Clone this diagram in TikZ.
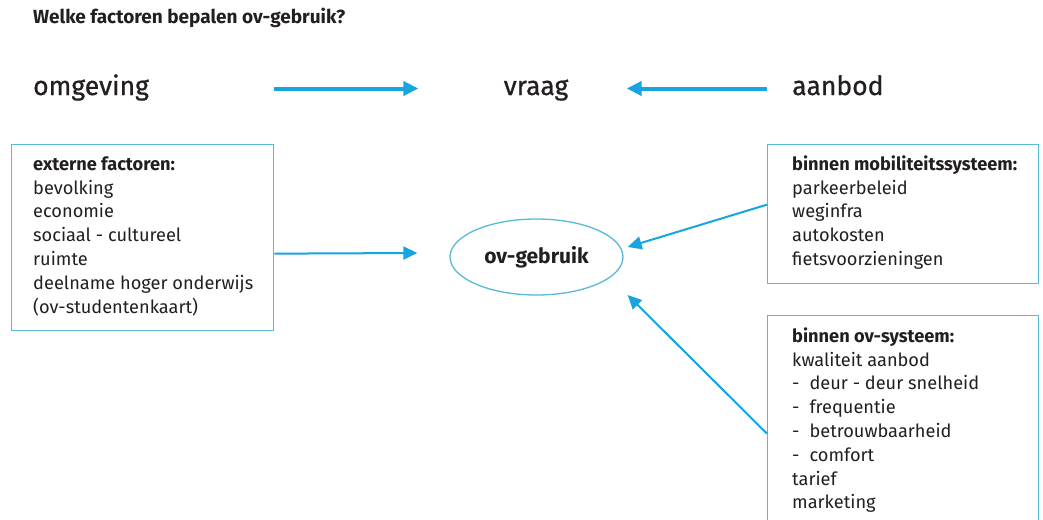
\documentclass[tikz,border=0pt]{standalone}
\usepackage{fontspec}
\setmainfont{Fira Sans}
\newfontfamily\medfont[FakeBold=0.8]{Fira Sans}
\usetikzlibrary{arrows.meta,shapes.geometric,calc}
\definecolor{arr}{RGB}{22,165,225}
\definecolor{bx}{RGB}{85,187,215}
\definecolor{txt}{RGB}{35,31,32}
\newcommand{\firstln}{\rule{0pt}{16pt}}
\begin{document}
\begin{tikzpicture}[x=1pt,y=-1pt,
  every node/.style={text=txt, inner sep=0pt},
  heading/.style={font=\medfont\fontsize{26.5}{30}\selectfont, text height=18pt, text depth=5pt},
  boxframe/.style={draw=bx, line width=1.3pt, anchor=north west},
  listtext/.style={align=left, anchor=north west, font=\fontsize{18.2}{23.8}\selectfont},
  bigarrow/.style={draw=arr, line width=4pt, -{Triangle[length=15pt,width=14pt]}},
  smallarrow/.style={draw=arr, line width=2pt, -{Triangle[length=14pt,width=13pt]}}]
\useasboundingbox (0,0) rectangle (1043,519);
\fill[white] (0,0) rectangle (1043,519);

\node[anchor=base west, font=\fontsize{19}{22}\selectfont\bfseries] (title) at (33,24) {Welke factoren bepalen ov-gebruik?};

\node[heading, anchor=base west] (omg) at (33,95) {omgeving};
\node[heading, anchor=base] (vraag) at (536,95) {vraag};
\node[heading, anchor=base west] (aanbod) at (792,95) {aanbod};

\node[boxframe, minimum width=262pt, minimum height=186pt] (lbox) at (11,144) {};
\node[boxframe, minimum width=271pt, minimum height=139pt] (rbox) at (767,144) {};
\node[boxframe, minimum width=271pt, minimum height=215pt] (obox) at (767,315) {};

\node[listtext] (ltext) at (33,154) {\firstln\textbf{externe factoren:}\\bevolking\\economie\\sociaal - cultureel\\ruimte\\deelname hoger onderwijs\\(ov-studentenkaart)};
\node[listtext] (rtext) at (792,154) {\firstln\textbf{binnen mobiliteitssysteem:}\\parkeerbeleid\\weginfra\\autokosten\\fietsvoorzieningen};
\node[listtext] (otext) at (792,326) {\firstln\textbf{binnen ov-systeem:}\\kwaliteit aanbod\\-\hspace{10pt}deur - deur snelheid\\-\hspace{10pt}frequentie\\-\hspace{10pt}betrouwbaarheid\\-\hspace{10pt}comfort\\tarief\\marketing};

\node[ellipse, draw=bx, line width=1.3pt, minimum width=173pt, minimum height=76pt, font=\fontsize{21}{24}\selectfont\bfseries] (ell) at (536.5,257) {ov-gebruik};

\draw[bigarrow] (omg.east -| lbox.east) -- ($(omg.east -| ell.west)+(-31,0)$);
\draw[bigarrow] (aanbod.west -| rbox.west) -- ($(aanbod.west -| ell.east)+(3,0)$);
\draw[smallarrow] ($(lbox.east)+(0,16)$) -- ($(ell.west)+(-32,-4)$);
\draw[smallarrow] ($(rbox.west)+(0,-9.5)$) -- ($(ell.east)+(4,-10)$);
\draw[smallarrow] ($(obox.west)+(0,10.5)$) -- ($(ell.east)+(4,38)$);
\end{tikzpicture}
\end{document}
